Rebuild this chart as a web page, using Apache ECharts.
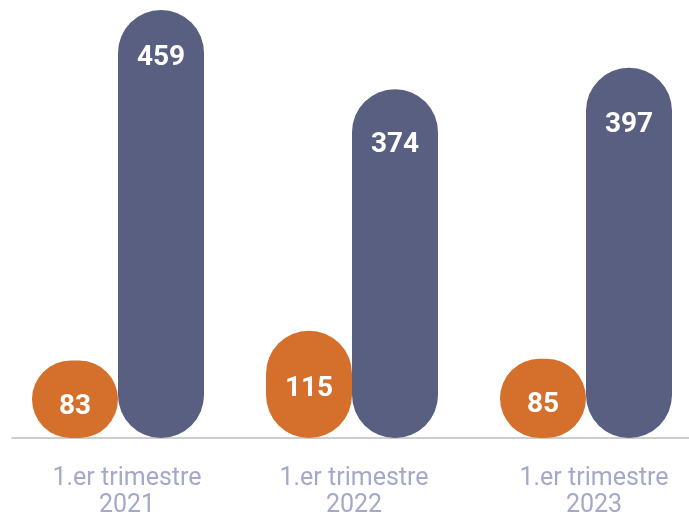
<!DOCTYPE html>
<html><head><meta charset="utf-8">
<script src="https://cdn.jsdelivr.net/npm/echarts@6/dist/echarts.min.js"></script>
<style>html,body{margin:0;padding:0;background:#fff}#c{width:689px;height:515px}</style>
</head><body><div id="c"></div>
<script>
const categories = ['1.er trimestre\n2021', '1.er trimestre\n2022', '1.er trimestre\n2023'];
const seriesA = [83, 115, 85];
const seriesB = [459, 374, 397];

const labelDistA = [32, 44, 32];
const labelDistB = [34, 42, 43];
const tickLabelShift = [18, 4, 16];

function build(vals, dists) {
  return vals.map((v, i) => ({ value: v, label: { distance: dists[i] } }));
}

const rich = {};
tickLabelShift.forEach((s, i) => {
  rich['c' + i] = { color: '#a5a9c9', fontFamily: 'Roboto', fontSize: 25, lineHeight: 27, padding: [0, 0, 0, s] };
});

const chart = echarts.init(document.getElementById('c'));
const commonLabel = {
  show: true, position: 'insideTop', color: '#ffffff',
  fontFamily: 'Roboto', fontWeight: 'bold', fontSize: 28
};
chart.setOption({
  animation: false,
  grid: [
    { left: 1, width: 702, top: 10, bottom: 77, containLabel: false, outerBoundsMode: 'none' },
    { left: 12, right: 0, top: 10, bottom: 77, containLabel: false, outerBoundsMode: 'none' }
  ],
  xAxis: [{
    type: 'category', data: categories, gridIndex: 0,
    axisLine: { show: false },
    axisTick: { show: false },
    axisLabel: {
      interval: 0, margin: 27,
      formatter: (val, idx) => val.split('\n').map(l => '{c' + idx + '|' + l + '}').join('\n'),
      rich: rich
    }
  }, {
    type: 'category', data: categories, gridIndex: 1,
    axisLine: { show: true, lineStyle: { color: '#bdbdbd', width: 1.5 } },
    axisTick: { show: false }, axisLabel: { show: false }
  }],
  yAxis: [
    { type: 'value', min: 0, max: 459, show: false, gridIndex: 0 },
    { type: 'value', min: 0, max: 459, show: false, gridIndex: 1 }
  ],
  series: [
    { type: 'bar', data: build(seriesA, labelDistA), barWidth: 86, barGap: '0%', z: 3,
      itemStyle: { color: '#d4702b', borderRadius: 43 }, label: commonLabel },
    { type: 'bar', data: build(seriesB, labelDistB), barWidth: 86, z: 3,
      itemStyle: { color: '#585f80', borderRadius: 43 }, label: commonLabel }
  ]
});
</script></body></html>
